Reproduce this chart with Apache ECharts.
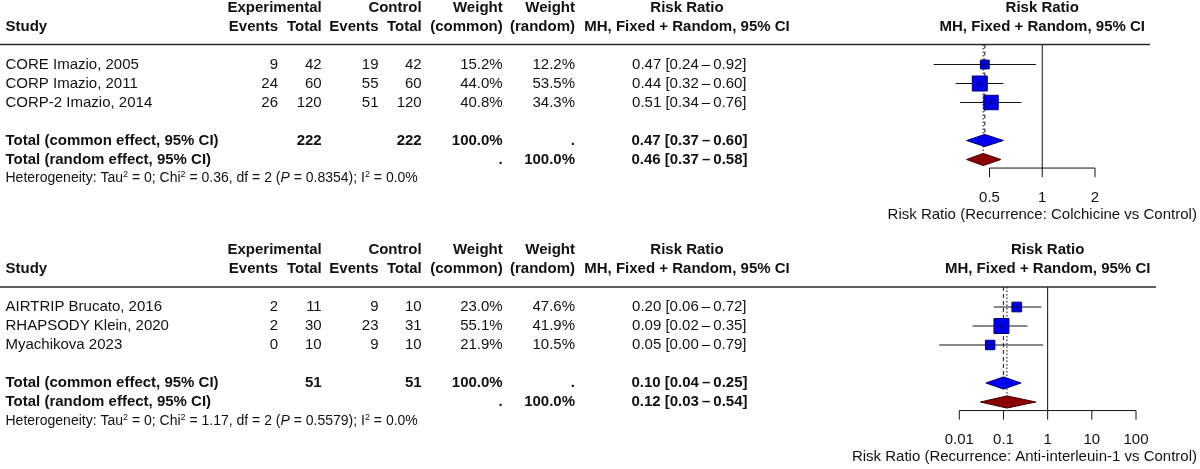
<!DOCTYPE html>
<html>
<head>
<meta charset="utf-8">
<script src="https://cdn.jsdelivr.net/npm/echarts@6/dist/echarts.min.js"></script>
<style>
html, body { margin: 0; padding: 0; background: #fff; }
#main { width: 1200px; height: 469px; }
</style>
</head>
<body>
<div id="main"></div>
<script>
// ---- colchicine panel (top)
var topStudies = ['CORE Imazio, 2005', 'CORP Imazio, 2011', 'CORP-2 Imazio, 2014'];
var topExpEvents = [9, 24, 26];
var topExpTotal = [42, 60, 120];
var topCtrlEvents = [19, 55, 51];
var topCtrlTotal = [42, 60, 120];
var topWCommon = [15.2, 44.0, 40.8];
var topWRandom = [12.2, 53.5, 34.3];
var topRR = [0.47, 0.44, 0.51];
var topLower = [0.24, 0.32, 0.34];
var topUpper = [0.92, 0.60, 0.76];
var topCommon = [0.47, 0.37, 0.60];   // estimate, lower, upper
var topRandom = [0.46, 0.37, 0.58];
var topHet = { tau2: '0', chi2: '0.36', df: '2', p: '0.8354', i2: '0.0%' };
var topTicks = [0.5, 1, 2];
var topXLabel = 'Risk Ratio (Recurrence: Colchicine vs Control)';

// ---- anti-interleukin-1 panel (bottom)
var botStudies = ['AIRTRIP Brucato, 2016', 'RHAPSODY Klein, 2020', 'Myachikova 2023'];
var botExpEvents = [2, 2, 0];
var botExpTotal = [11, 30, 10];
var botCtrlEvents = [9, 23, 9];
var botCtrlTotal = [10, 31, 10];
var botWCommon = [23.0, 55.1, 21.9];
var botWRandom = [47.6, 41.9, 10.5];
var botRR = [0.20, 0.09, 0.05];
var botLower = [0.06, 0.02, 0.0035];
var botUpper = [0.72, 0.35, 0.79];
var botCommon = [0.10, 0.04, 0.25];
var botRandom = [0.12, 0.03, 0.54];
var botHet = { tau2: '0', chi2: '1.17', df: '2', p: '0.5579', i2: '0.0%' };
var botTicks = [0.01, 0.1, 1, 10, 100];
var botXLabel = 'Risk Ratio (Recurrence: Anti-interleuin-1 vs Control)';

var panelData = [
    { studies: topStudies, expEv: topExpEvents, expTot: topExpTotal, ctlEv: topCtrlEvents, ctlTot: topCtrlTotal,
      wCom: topWCommon, wRan: topWRandom, rr: topRR, lo: topLower, hi: topUpper,
      common: topCommon, random: topRandom, het: topHet, ticks: topTicks, xlab: topXLabel },
    { studies: botStudies, expEv: botExpEvents, expTot: botExpTotal, ctlEv: botCtrlEvents, ctlTot: botCtrlTotal,
      wCom: botWCommon, wRan: botWRandom, rr: botRR, lo: botLower, hi: botUpper,
      common: botCommon, random: botRandom, het: botHet, ticks: botTicks, xlab: botXLabel }
];

// ---- layout
var FONT = '"Liberation Sans", Arial, Helvetica, sans-serif';
var INK = '#111';
var ROW_H = 19, NROWS = 11;
var panelLayout = [
    { base: 7.5, plotLeft: 989.5, plotRight: 1095, ruleEnd: 1150, titleRight: null },
    { base: 250, plotLeft: 959.3, plotRight: 1136, ruleEnd: 1156, titleRight: 1197 }
];
var COL = { study: 5.5, expEv: 278, expTot: 321.7, ctlEv: 378.5, ctlTot: 421.7,
            wCom: 502.7, wRan: 575, rr: 746.5, rrHead: 687 };
var ROWS = { head1: 0, head2: 1, rule: 1.95, first: 3, common: 7, random: 8, het: 9,
             axis: 8.45, tickEnd: 8.93, tickLab: 10, title: 10.9 };
var DIAMOND_H = 0.32;   // half height in rows
var MAX_SQ = 15;

function sum(a) { return a.reduce(function (s, v) { return s + v; }, 0); }
function fmtRR(v, l, u) {
    return v.toFixed(2) + ' [' + l.toFixed(2) + '\u2009\u2013\u2009' + u.toFixed(2) + ']';
}

function tableItems(d) {
    var items = [];
    function add(x, row, text, align, bold, size, rich) {
        items.push({ x: x, row: row, text: String(text), align: align, bold: !!bold, size: size || 15, rich: !!rich });
    }
    add(COL.expTot, ROWS.head1, 'Experimental', 'right', true);
    add(COL.ctlTot, ROWS.head1, 'Control', 'right', true);
    add(COL.wCom, ROWS.head1, 'Weight', 'right', true);
    add(COL.wRan, ROWS.head1, 'Weight', 'right', true);
    add(COL.rrHead, ROWS.head1, 'Risk Ratio', 'center', true);
    add(COL.study, ROWS.head2, 'Study', 'left', true);
    add(COL.expEv, ROWS.head2, 'Events', 'right', true);
    add(COL.expTot, ROWS.head2, 'Total', 'right', true);
    add(COL.ctlEv, ROWS.head2, 'Events', 'right', true);
    add(COL.ctlTot, ROWS.head2, 'Total', 'right', true);
    add(COL.wCom, ROWS.head2, '(common)', 'right', true);
    add(COL.wRan, ROWS.head2, '(random)', 'right', true);
    add(COL.rrHead, ROWS.head2, 'MH, Fixed + Random, 95% CI', 'center', true);

    d.studies.forEach(function (s, i) {
        var r = ROWS.first + i;
        add(COL.study, r, s, 'left');
        add(COL.expEv, r, d.expEv[i], 'right');
        add(COL.expTot, r, d.expTot[i], 'right');
        add(COL.ctlEv, r, d.ctlEv[i], 'right');
        add(COL.ctlTot, r, d.ctlTot[i], 'right');
        add(COL.wCom, r, d.wCom[i].toFixed(1) + '%', 'right');
        add(COL.wRan, r, d.wRan[i].toFixed(1) + '%', 'right');
        add(COL.rr, r, fmtRR(d.rr[i], d.lo[i], d.hi[i]), 'right');
    });

    var rc = ROWS.common, rr = ROWS.random;
    add(COL.study, rc, 'Total (common effect, 95% CI)', 'left', true);
    add(COL.expTot, rc, sum(d.expTot), 'right', true);
    add(COL.ctlTot, rc, sum(d.ctlTot), 'right', true);
    add(COL.wCom, rc, sum(d.wCom).toFixed(1) + '%', 'right', true);
    add(COL.wRan, rc, '.', 'right', true);
    add(COL.rr + 1, rc, fmtRR(d.common[0], d.common[1], d.common[2]), 'right', true);

    add(COL.study, rr, 'Total (random effect, 95% CI)', 'left', true);
    add(COL.wCom, rr, '.', 'right', true);
    add(COL.wRan, rr, sum(d.wRan).toFixed(1) + '%', 'right', true);
    add(COL.rr + 1, rr, fmtRR(d.random[0], d.random[1], d.random[2]), 'right', true);

    var h = d.het;
    add(COL.study, ROWS.het,
        'Heterogeneity: Tau{sup|2} = ' + h.tau2 + '; Chi{sup|2} = ' + h.chi2 + ', df = ' + h.df +
        ' ({it|P} = ' + h.p + '); I{sup|2} = ' + h.i2, 'left', false, 14, true);
    return items;
}

var RICH = {
    sup: { fontSize: 9, fontFamily: FONT, fill: INK, verticalAlign: 'top', lineHeight: 16 },
    it: { fontSize: 14, fontFamily: FONT, fontStyle: 'italic', fill: INK, lineHeight: 16 }
};

function textRenderer(items) {
    return function (params, api) {
        var t = items[params.dataIndex];
        var pt = api.coord([t.x, t.row]);
        var st = {
            text: t.text, fill: INK, fontFamily: FONT, fontSize: t.size,
            fontWeight: t.bold ? 'bold' : 'normal',
            align: t.align, verticalAlign: 'middle',
            textAlign: t.align, textVerticalAlign: 'middle'
        };
        if (t.rich) { st.rich = RICH; st.lineHeight = 16; }
        return { type: 'text', x: pt[0], y: pt[1], style: st };
    };
}

function txt(x, y, s, align, bold) {
    return { type: 'text', x: x, y: y, style: {
        text: s, fill: INK, fontFamily: FONT, fontSize: 15, fontWeight: bold ? 'bold' : 'normal',
        align: align, verticalAlign: 'middle', textAlign: align, textVerticalAlign: 'middle' } };
}
function seg(p1, p2, stroke, width, dash) {
    return { type: 'line', shape: { x1: p1[0], y1: p1[1], x2: p2[0], y2: p2[1] },
             style: { stroke: stroke, lineWidth: width, lineDash: dash || null } };
}

function frameRenderer(d, L) {
    return function (params, api) {
        var ch = [];
        // reference lines
        ch.push(seg(api.coord([1, ROWS.rule]), api.coord([1, ROWS.axis]), '#111', 1));
        ch.push(seg(api.coord([d.common[0], ROWS.rule]), api.coord([d.common[0], ROWS.common - DIAMOND_H]), '#333', 1.2, [4, 3]));
        ch.push(seg(api.coord([d.random[0], ROWS.rule]), api.coord([d.random[0], ROWS.random - DIAMOND_H]), '#333', 1.2, [1.5, 2]));
        // x axis
        var t = d.ticks;
        ch.push(seg(api.coord([t[0], ROWS.axis]), api.coord([t[t.length - 1], ROWS.axis]), '#111', 1));
        t.forEach(function (v) {
            ch.push(seg(api.coord([v, ROWS.axis]), api.coord([v, ROWS.tickEnd]), '#111', 1));
            var p = api.coord([v, ROWS.tickLab]);
            ch.push(txt(p[0], p[1], String(v), 'center', false));
        });
        // headers centred on the null line
        var h1 = api.coord([1, ROWS.head1]), h2 = api.coord([1, ROWS.head2]);
        ch.push(txt(h1[0], h1[1], 'Risk Ratio', 'center', true));
        ch.push(txt(h2[0], h2[1], 'MH, Fixed + Random, 95% CI', 'center', true));
        var tp = api.coord([1, ROWS.title]);
        if (L.titleRight) ch.push(txt(L.titleRight, tp[1], d.xlab, 'right', false));
        else ch.push(txt(tp[0], tp[1], d.xlab, 'center', false));
        return { type: 'group', children: ch };
    };
}

function studyRenderer(d) {
    var maxW = Math.max.apply(null, d.wCom);
    return function (params, api) {
        var i = params.dataIndex, row = ROWS.first + i;
        var c = api.coord([d.rr[i], row]);
        var lo = api.coord([d.lo[i], row]), hi = api.coord([d.hi[i], row]);
        var s = MAX_SQ * Math.sqrt(d.wCom[i] / maxW);
        return { type: 'group', children: [
            seg(lo, hi, '#111', 1),
            { type: 'rect', shape: { x: c[0] - s / 2, y: c[1] - s / 2, width: s, height: s },
              style: { fill: '#0000e8', stroke: '#00007a', lineWidth: 1 } },
            seg([c[0] - 2.5, c[1]], [c[0] + 2.5, c[1]], '#000040', 0.8),
            seg([c[0], c[1] - 2.5], [c[0], c[1] + 2.5], '#000040', 0.8)
        ] };
    };
}

function diamondRenderer(d) {
    var pooled = [
        { v: d.common, row: ROWS.common, fill: '#0000f0', stroke: '#00006a' },
        { v: d.random, row: ROWS.random, fill: '#8b0000', stroke: '#3d0000' }
    ];
    return function (params, api) {
        var p = pooled[params.dataIndex];
        var l = api.coord([p.v[1], p.row]), r = api.coord([p.v[2], p.row]);
        var t = api.coord([p.v[0], p.row - DIAMOND_H]), b = api.coord([p.v[0], p.row + DIAMOND_H]);
        return { type: 'polygon', shape: { points: [l, t, r, b] },
                 style: { fill: p.fill, stroke: p.stroke, lineWidth: 1 } };
    };
}

var grids = [], xAxes = [], yAxes = [], series = [];
panelData.forEach(function (d, k) {
    var L = panelLayout[k];
    var tx = 2 * k, px = 2 * k + 1;
    grids.push({ left: 0, width: 1200, top: L.base, height: NROWS * ROW_H });
    grids.push({ left: L.plotLeft, width: L.plotRight - L.plotLeft, top: L.base, height: NROWS * ROW_H });
    xAxes.push({ type: 'value', gridIndex: tx, min: 0, max: 1200, show: false });
    xAxes.push({ type: 'log', logBase: 10, gridIndex: px, min: d.ticks[0], max: d.ticks[d.ticks.length - 1], show: false });
    yAxes.push({ type: 'value', gridIndex: tx, min: 0, max: NROWS, inverse: true, show: false });
    yAxes.push({ type: 'value', gridIndex: px, min: 0, max: NROWS, inverse: true, show: false });

    var items = tableItems(d);
    series.push({
        type: 'line', xAxisIndex: tx, yAxisIndex: tx, symbol: 'none', silent: true,
        data: [[0, ROWS.rule], [L.ruleEnd, ROWS.rule]],
        lineStyle: { color: '#2a2a2a', width: 1.5 }
    });
    series.push({
        type: 'custom', xAxisIndex: tx, yAxisIndex: tx, clip: false, silent: true,
        data: items.map(function (t) { return [t.x, t.row]; }),
        renderItem: textRenderer(items)
    });
    series.push({
        type: 'custom', xAxisIndex: px, yAxisIndex: px, clip: false, silent: true,
        data: [[1, 0]], renderItem: frameRenderer(d, L)
    });
    series.push({
        type: 'custom', xAxisIndex: px, yAxisIndex: px, clip: false, silent: true, z: 3,
        data: d.rr.map(function (v, i) { return [v, ROWS.first + i]; }),
        renderItem: studyRenderer(d)
    });
    series.push({
        type: 'custom', xAxisIndex: px, yAxisIndex: px, clip: false, silent: true, z: 3,
        data: [[d.common[0], ROWS.common], [d.random[0], ROWS.random]],
        renderItem: diamondRenderer(d)
    });
});

var chart = echarts.init(document.getElementById('main'));
chart.setOption({
    animation: false,
    backgroundColor: '#fff',
    grid: grids,
    xAxis: xAxes,
    yAxis: yAxes,
    series: series
});
</script>
</body>
</html>
